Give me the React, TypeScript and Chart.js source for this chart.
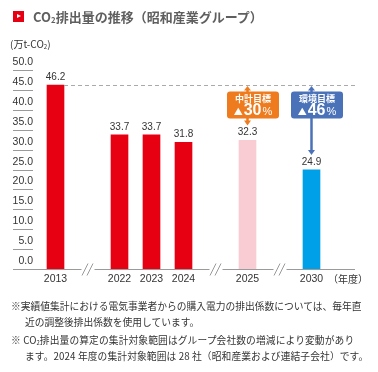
import React, { useEffect, useRef } from "react";
import { Chart, registerables } from "chart.js";

Chart.register(...registerables);

const categories = ["2013", "", "2022", "2023", "2024", "", "2025", "", "2030"];
const emissions: (number | null)[] = [46.2, null, 33.7, 33.7, 31.8, null, 32.3, null, 24.9];
const barColors = ["#E60012", "#E60012", "#E60012", "#E60012", "#E60012", "#E60012", "#F8CCD2", "#E60012", "#00A0E9"];
const yTicks = [0, 5, 10, 15, 20, 25, 30, 35, 40, 45, 50];
const breakSlots = [1, 5, 7];
const baselineValue = 46.2;
const targets = [
  { index: 6, title: "中計目標", pct: "30", color: "#EE7B1D" },
  { index: 8, title: "環境目標", pct: "46", color: "#4A72B9" },
];

const NUM_FONT = "'Liberation Sans', Arial, 'Noto Sans CJK JP', sans-serif";
const JP_FONT = "'Noto Sans CJK JP', 'Liberation Sans', sans-serif";

const customPlugin = {
  id: "custom",
  afterDraw(chart: any) {
    const ctx = chart.ctx as CanvasRenderingContext2D;
    const x = chart.scales.x;
    const y = chart.scales.y;
    ctx.save();

    // y tick labels with underlines
    ctx.font = `10.5px ${NUM_FONT}`;
    ctx.textAlign = "right";
    ctx.textBaseline = "middle";
    yTicks.forEach((v) => {
      const py = Math.round(y.getPixelForValue(v)) + 0.5;
      if (v !== 0) {
        ctx.strokeStyle = "#9a9a9a";
        ctx.lineWidth = 1;
        ctx.beginPath();
        ctx.moveTo(13, py);
        ctx.lineTo(33, py);
        ctx.stroke();
      }
      ctx.fillStyle = "#333";
      ctx.fillText(v.toFixed(1), 33, py - 8);
    });

    // x axis line with breaks
    const axisY = Math.round(y.getPixelForValue(0)) + 0.5;
    ctx.strokeStyle = "#9a9a9a";
    ctx.lineWidth = 1;
    const segs: [number, number][] = [];
    let start = 13;
    breakSlots.forEach((i) => {
      const cx = x.getPixelForValue(i);
      segs.push([start, cx - 6]);
      start = cx + 7;
    });
    segs.push([start, 355]);
    segs.forEach(([a, b]) => {
      ctx.beginPath();
      ctx.moveTo(a, axisY);
      ctx.lineTo(b, axisY);
      ctx.stroke();
    });
    breakSlots.forEach((i) => {
      const cx = x.getPixelForValue(i);
      [-2.5, 2.5].forEach((off) => {
        ctx.beginPath();
        ctx.moveTo(cx + off - 3, axisY + 6);
        ctx.lineTo(cx + off + 3, axisY - 6);
        ctx.stroke();
      });
    });

    // dashed baseline
    const by = Math.round(y.getPixelForValue(baselineValue)) + 0.5;
    const meta0 = chart.getDatasetMeta(0);
    const firstBar = meta0.data[0];
    ctx.setLineDash([4, 3]);
    ctx.strokeStyle = "#aaaaaa";
    ctx.beginPath();
    ctx.moveTo(firstBar.x + firstBar.width / 2, by);
    ctx.lineTo(358, by);
    ctx.stroke();
    ctx.setLineDash([]);

    // value labels
    ctx.font = `10px ${NUM_FONT}`;
    ctx.textAlign = "center";
    ctx.textBaseline = "middle";
    ctx.fillStyle = "#333";
    emissions.forEach((v, i) => {
      if (v == null) return;
      const el = meta0.data[i];
      ctx.fillText(v.toFixed(1), el.x, y.getPixelForValue(v) - 8);
    });

    // year unit
    ctx.font = `10px ${JP_FONT}`;
    ctx.textAlign = "left";
    ctx.fillText("（年度）", 328, axisY + 10);

    // target callouts
    targets.forEach((t) => {
      const el = meta0.data[t.index];
      const cx = el.x;
      const bx = cx - 20.5;
      const bw = 52;
      const bTop = by + 6;
      const bH = 27;
      const valTop = y.getPixelForValue(emissions[t.index] as number) - 15;
      ctx.fillStyle = t.color;
      ctx.strokeStyle = t.color;
      ctx.lineWidth = 2.5;
      ctx.beginPath();
      ctx.moveTo(cx, by + 3);
      ctx.lineTo(cx, valTop - 4);
      ctx.stroke();
      ctx.beginPath();
      ctx.moveTo(cx, by + 0.5);
      ctx.lineTo(cx - 3.5, by + 5);
      ctx.lineTo(cx + 3.5, by + 5);
      ctx.closePath();
      ctx.fill();
      ctx.beginPath();
      ctx.moveTo(cx, valTop);
      ctx.lineTo(cx - 3.5, valTop - 5);
      ctx.lineTo(cx + 3.5, valTop - 5);
      ctx.closePath();
      ctx.fill();
      ctx.beginPath();
      (ctx as any).roundRect(bx, bTop, bw, bH, 3);
      ctx.fill();
      ctx.fillStyle = "#fff";
      ctx.textAlign = "center";
      ctx.textBaseline = "middle";
      ctx.font = `bold 9px ${JP_FONT}`;
      ctx.fillText(t.title, bx + bw / 2, bTop + 7);
      ctx.font = `bold 16px ${NUM_FONT}`;
      const wNum = ctx.measureText(t.pct).width;
      ctx.font = `9px ${JP_FONT}`;
      const wTri = ctx.measureText("▲").width;
      ctx.font = `11px ${NUM_FONT}`;
      const wPct = ctx.measureText("%").width;
      const total = wTri + 1 + wNum + 1 + wPct;
      let px = bx + bw / 2 - total / 2;
      const rowY = bTop + 19;
      ctx.textAlign = "left";
      ctx.font = `9px ${JP_FONT}`;
      ctx.fillText("▲", px, rowY + 1);
      px += wTri + 1;
      ctx.font = `bold 16px ${NUM_FONT}`;
      ctx.fillText(t.pct, px, rowY);
      px += wNum + 1;
      ctx.font = `11px ${NUM_FONT}`;
      ctx.fillText("%", px, rowY + 1.5);
    });

    ctx.restore();
  },
};

export default function App() {
  const canvasRef = useRef<HTMLCanvasElement | null>(null);

  useEffect(() => {
    if (!canvasRef.current) return;
    const chart = new Chart(canvasRef.current, {
      type: "bar",
      data: {
        labels: categories,
        datasets: [
          {
            data: emissions,
            backgroundColor: barColors,
            barThickness: 17,
          },
        ],
      },
      options: {
        responsive: false,
        animation: false,
        layout: { padding: { left: 39.5, right: 50.5, top: 70, bottom: 83 } },
        plugins: { legend: { display: false }, tooltip: { enabled: false } },
        scales: {
          x: {
            grid: { display: false, drawTicks: false },
            border: { display: false },
            ticks: {
              autoSkip: false,
              maxRotation: 0,
              padding: 4,
              color: "#333",
              font: { family: NUM_FONT, size: 10.5 },
            },
            afterFit: (s: any) => {
              s.height = 20;
            },
          },
          y: {
            display: false,
            min: 0,
            max: 50,
          },
        },
      },
      plugins: [customPlugin],
    });
    return () => chart.destroy();
  }, []);

  const note: React.CSSProperties = {
    position: "absolute",
    fontSize: "9.75px",
    lineHeight: "16px",
    color: "#333",
    whiteSpace: "nowrap",
    fontFamily: JP_FONT,
  };
  const sub: React.CSSProperties = { fontSize: "60%", verticalAlign: "-0.15em" };

  return (
    <div style={{ position: "absolute", left: 0, top: 0, width: 378, height: 372, background: "#fff", fontFamily: JP_FONT }}>
      <canvas ref={canvasRef} width={378} height={372} style={{ position: "absolute", left: 0, top: 0 }} />
      <div style={{ position: "absolute", left: 13, top: 11, width: 11, height: 11, background: "#E60012" }}>
        <div
          style={{
            position: "absolute",
            left: 4,
            top: 3,
            width: 0,
            height: 0,
            borderTop: "2.5px solid transparent",
            borderBottom: "2.5px solid transparent",
            borderLeft: "4px solid #fff",
          }}
        />
      </div>
      <div style={{ position: "absolute", left: 33, top: 7, fontSize: "13px", lineHeight: "20px", fontWeight: 700, color: "#5f5f5f", whiteSpace: "nowrap" }}>
        CO<span style={sub}>2</span>排出量の推移（昭和産業グループ）
      </div>
      <div style={{ position: "absolute", left: 10, top: 36, fontSize: "10px", lineHeight: "16px", color: "#333", whiteSpace: "nowrap" }}>
        (万t-CO<span style={sub}>2</span>)
      </div>
      <div style={{ ...note, left: 11, top: 298 }}>※実績値集計における電気事業者からの購入電力の排出係数については、毎年直</div>
      <div style={{ ...note, left: 25, top: 314 }}>近の調整後排出係数を使用しています。</div>
      <div style={{ ...note, left: 11, top: 332, letterSpacing: "0.1px" }}>
        ※ CO<span style={sub}>2</span>排出量の算定の集計対象範囲はグループ会社数の増減により変動があり
      </div>
      <div style={{ ...note, left: 25, top: 348, letterSpacing: "0.1px" }}>
        ます。2024 年度の集計対象範囲は 28 社（昭和産業および連結子会社）です。
      </div>
    </div>
  );
}
